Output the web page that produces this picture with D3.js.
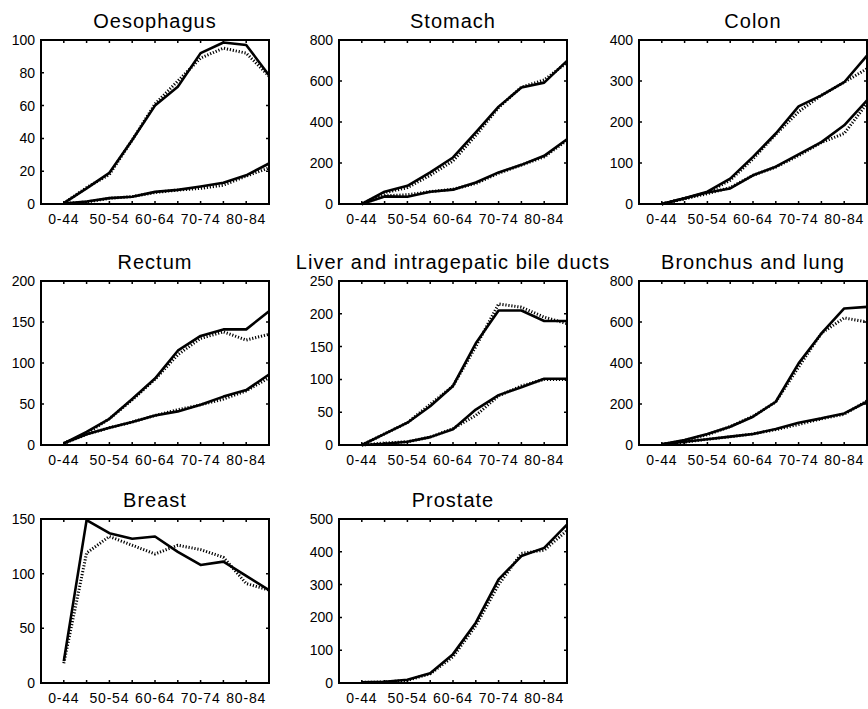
<!DOCTYPE html>
<html>
<head>
<meta charset="utf-8">
<script src="https://cdn.jsdelivr.net/npm/d3@7/dist/d3.min.js"></script>
<style>
body { margin: 0; background: #fff; }
svg { display: block; font-family: "Liberation Sans", Arial, sans-serif; }
</style>
</head>
<body>
<svg width="868" height="709"></svg>
<script>
var svg = d3.select("svg"),
    width = +svg.attr("width"),
    height = +svg.attr("height");

// age groups on the x axis, only every other one gets a label
var ageGroups = ["0-44", "45-49", "50-54", "55-59", "60-64", "65-69", "70-74", "75-79", "80-84", "85+"];
var labelledAges = ["0-44", "50-54", "60-64", "70-74", "80-84"];

var titles = ["Oesophagus", "Stomach", "Colon", "Rectum", "Liver and intragepatic bile ducts",
              "Bronchus and lung", "Breast", "Prostate"];
var yMax  = [100, 800, 400, 200, 250, 800, 150, 500];
var yStep = [20, 200, 100, 50, 50, 200, 50, 100];

// solid = observed, dotted = fitted (upper curve men, lower curve women)
var oesophagusObs = [[0.5, 9.5, 19, 39, 60, 71.5, 92, 98.5, 97, 78.5],
                     [0.3, 1.5, 3.6, 4.4, 7.4, 8.6, 10.7, 13, 17.5, 24.7]];
var oesophagusFit = [[0.5, 10, 18, 39, 61, 75, 89, 95, 92, 78],
                     [0.3, 1.2, 3.5, 4.5, 7, 8.5, 9.5, 11.5, 17, 22]];

var stomachObs = [[0, 60, 89, 154, 227, 349, 475, 568, 592, 698],
                  [0, 37, 35, 60, 70, 105, 154, 191, 235, 316]];
var stomachFit = [[0, 55, 80, 140, 210, 335, 470, 570, 605, 690],
                  [0, 40, 45, 60, 72, 100, 150, 190, 230, 310]];

var colonObs = [[0, 14, 30, 62, 115, 172, 238, 265, 297, 362],
                [0, 14, 28, 38, 70, 91, 121, 151, 192, 253]];
var colonFit = [[0, 13, 28, 58, 110, 170, 225, 265, 297, 330],
                [0, 13, 25, 40, 70, 90, 118, 150, 172, 245]];

var rectumObs = [[2, 16, 32, 56, 81, 115, 133, 141, 141, 163],
                 [2, 13, 21, 28, 36, 41, 49, 59, 67, 86]];
var rectumFit = [[2, 14, 32, 55, 80, 110, 130, 138, 128, 135],
                 [2, 13, 21, 28, 36, 43, 49, 56, 66, 82]];

var liverObs = [[0, 17, 34, 59, 90, 155, 205, 205, 189, 189],
                [0, 2, 5, 12, 24, 54, 76, 88, 101, 101]];
var liverFit = [[0, 17, 34, 62, 90, 150, 215, 210, 195, 185],
                [0, 3, 5, 12, 25, 45, 75, 90, 100, 100]];

var lungObs = [[3, 24, 54, 89, 138, 211, 398, 544, 666, 674],
               [3, 16, 28, 41, 54, 78, 109, 130, 154, 211]];
var lungFit = [[3, 22, 50, 90, 140, 210, 380, 545, 620, 600],
               [3, 14, 28, 40, 54, 75, 100, 128, 150, 215]];

var breastObs = [[20, 149, 137, 132, 134, 120, 108, 111, 98, 85]];
var breastFit = [[18, 119, 134, 126, 118, 126, 122, 115, 91, 85]];

var prostateObs = [[2, 4, 10, 30, 88, 184, 316, 387, 412, 483]];
var prostateFit = [[2, 3, 8, 28, 80, 175, 300, 395, 405, 465]];

var observed = [oesophagusObs, stomachObs, colonObs, rectumObs, liverObs, lungObs, breastObs, prostateObs];
var fitted   = [oesophagusFit, stomachFit, colonFit, rectumFit, liverFit, lungFit, breastFit, prostateFit];

// panel grid
var colLeft = [41, 339, 639],
    rowTop = [40, 281, 519],
    pw = 228,
    ph = 164;

var x = d3.scaleLinear().domain([0, ageGroups.length]).range([0, pw]);
function xAge(i) { return x(i + 1); }

titles.forEach(function(title, p) {
  var g = svg.append("g")
      .attr("transform", "translate(" + colLeft[p % 3] + "," + rowTop[Math.floor(p / 3)] + ")");

  var y = d3.scaleLinear().domain([0, yMax[p]]).range([ph, 0]);
  var yTicks = d3.range(0, yMax[p] + yStep[p] / 2, yStep[p]);

  var line = d3.line()
      .x(function(d, i) { return xAge(i); })
      .y(function(d) { return y(d); });

  // fitted (dotted) first, observed (solid) on top
  g.selectAll(".fit")
    .data(fitted[p])
    .enter().append("path")
      .attr("class", "fit")
      .attr("d", line)
      .attr("fill", "none")
      .attr("stroke", "#000")
      .attr("stroke-width", 3)
      .attr("stroke-dasharray", "1.2,1.8");

  g.selectAll(".obs")
    .data(observed[p])
    .enter().append("path")
      .attr("class", "obs")
      .attr("d", line)
      .attr("fill", "none")
      .attr("stroke", "#000")
      .attr("stroke-width", 2.6)
      .attr("stroke-linejoin", "round");

  // inward ticks on all four sides
  var ageIdx = d3.range(ageGroups.length);
  g.selectAll(".xt")
    .data(ageIdx)
    .enter().append("path")
      .attr("d", function(i) { var xx = xAge(i); return "M" + xx + "," + ph + "v-3M" + xx + ",0v3"; })
      .attr("stroke", "#000")
      .attr("stroke-width", 1.5);

  g.selectAll(".yt")
    .data(yTicks)
    .enter().append("path")
      .attr("d", function(t) { return "M0," + y(t) + "h3M" + pw + "," + y(t) + "h-3"; })
      .attr("stroke", "#000")
      .attr("stroke-width", 1.5);

  g.append("rect")
      .attr("width", pw)
      .attr("height", ph)
      .attr("fill", "none")
      .attr("stroke", "#000")
      .attr("stroke-width", 2);

  // y labels
  g.selectAll(".yl")
    .data(yTicks)
    .enter().append("text")
      .attr("x", -6)
      .attr("y", function(t) { return y(t); })
      .attr("dy", "0.36em")
      .attr("text-anchor", "end")
      .attr("font-size", 14)
      .text(function(t) { return t; });

  // x labels
  g.selectAll(".xl")
    .data(labelledAges)
    .enter().append("text")
      .attr("x", function(a) { return xAge(ageGroups.indexOf(a)); })
      .attr("y", ph + 20)
      .attr("text-anchor", "middle")
      .attr("font-size", 14)
      .attr("letter-spacing", "0.8px")
      .text(function(a) { return a; });

  g.append("text")
      .attr("x", pw / 2)
      .attr("y", -12)
      .attr("text-anchor", "middle")
      .attr("font-size", 20)
      .attr("letter-spacing", "1px")
      .text(title);
});
</script>
</body>
</html>
